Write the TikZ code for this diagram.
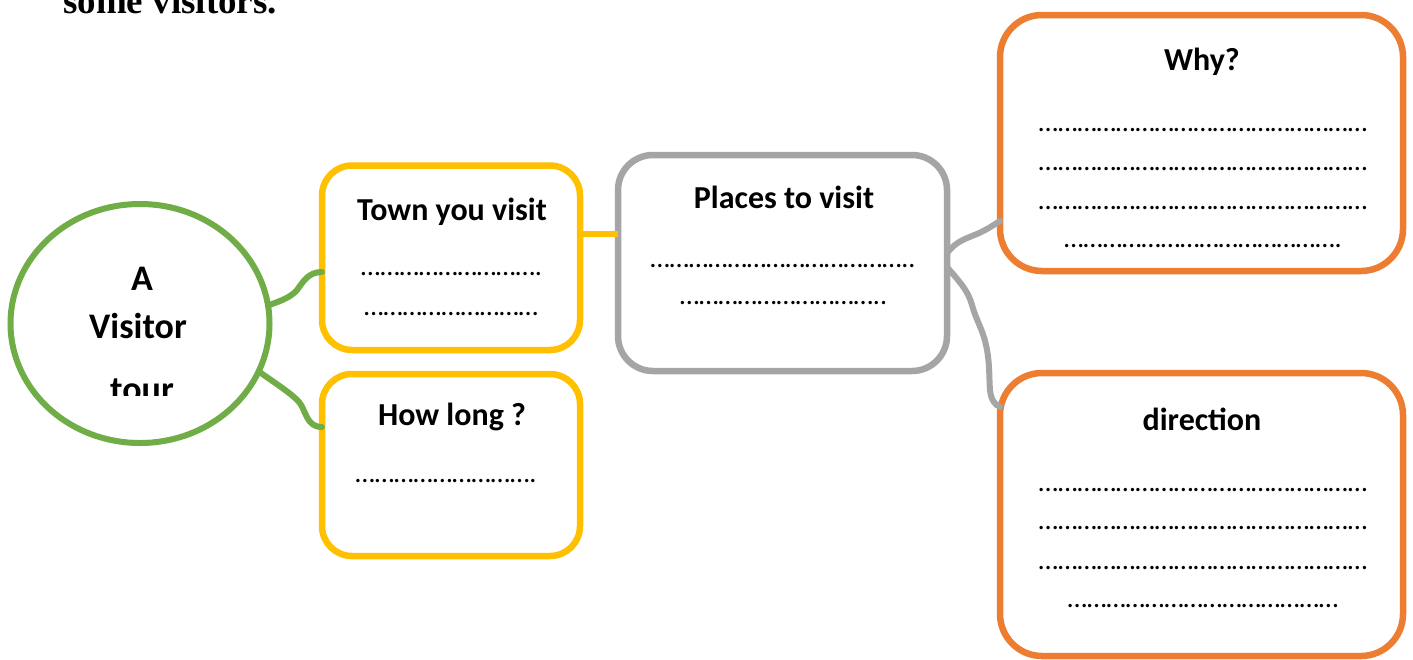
\documentclass[tikz,border=0pt]{standalone}
\usepackage{fontspec}
\setmainfont{Carlito}
\newfontfamily\titleserif{Liberation Serif}
\usetikzlibrary{shapes.geometric}
\definecolor{grn}{HTML}{70AD47}
\definecolor{ylw}{HTML}{FFC000}
\definecolor{gry}{HTML}{A5A5A5}
\definecolor{org}{HTML}{ED7D31}
\newcommand\dotrow[1]{\foreach \i in {1,...,#1}{…}}
\tikzset{
  boxshape/.style={rectangle, line width=6.5pt, inner sep=0pt, outer sep=0pt, fill=white},
  lbl/.style={font=\bfseries\fontsize{32}{38}\selectfont, inner sep=0pt, anchor=base},
  ctext/.style={font=\bfseries\fontsize{36}{42}\selectfont, inner sep=0pt, anchor=base},
  dotline/.style={font=\fontsize{28}{33}\selectfont, inner sep=0pt, anchor=base},
  conn/.style={line width=6pt, line cap=round, line join=round}
}
\begin{document}
\begin{tikzpicture}[x=1pt,y=-1pt]
\useasboundingbox (0,0) rectangle (1413,659);
\clip (0,0) rectangle (1413,659);
\fill[white] (0,0) rectangle (1413,659);

% title
\node[anchor=base west, inner sep=0pt, font=\titleserif\bfseries\fontsize{37}{40}\selectfont] (title) at (63,13) {some visitors.};

% shapes
\node[ellipse, draw=grn, line width=6pt, minimum width=259pt, minimum height=239pt, inner sep=0pt, outer sep=0pt] (circ) at (140,323.5) {};
\node[boxshape, draw=ylw, rounded corners=30pt, minimum width=258pt, minimum height=184.5pt] (town) at (451,257.75) {};
\node[boxshape, draw=ylw, rounded corners=30pt, minimum width=258pt, minimum height=182pt] (hl) at (451,465) {};
\node[boxshape, draw=gry, rounded corners=35pt, minimum width=329pt, minimum height=216pt] (places) at (782.5,263) {};
\node[boxshape, draw=org, rounded corners=42pt, minimum width=403pt, minimum height=256pt] (why) at (1201.5,143) {};
\node[boxshape, draw=org, rounded corners=42pt, minimum width=403pt, minimum height=283pt] (dir) at (1201.5,514.5) {};

% connectors
\draw[conn, draw=grn] (circ.8) .. controls (280,301) and (290,298) .. (297,290) .. controls (303,282) and (308,272) .. ([yshift=-14.25pt]town.west);
\draw[conn, draw=grn] (circ.-22) .. controls (278,385) and (292,394) .. (299,402) .. controls (306,410) and (306,427) .. ([yshift=38pt]hl.west);
\draw[conn, draw=ylw, line cap=butt] ([yshift=23.75pt]town.east) -- ([yshift=29pt]places.west);
\draw[conn, draw=gry] ([yshift=10pt]places.east) .. controls (955,243) and (962,240) .. (972,236) .. controls (985,231) and (992,226) .. ([yshift=-78pt]why.west);
\draw[conn, draw=gry] ([yshift=-4pt]places.east) .. controls (958,280) and (968,290) .. (972,305) .. controls (976,320) and (983,330) .. (986,345) .. controls (990,362) and (989,380) .. (990,390) .. controls (991,400) and (995,405) .. ([yshift=107.5pt]dir.west);

% circle text
\node[ctext] (ta) at (142,290) {A};
\node[ctext] (tv) at (138,338) {Visitor};
\begin{scope}
\clip (0,0) rectangle (1413,395);
\node[ctext] (tt) at (142,401) {tour};
\end{scope}

% town
\node[lbl] (townT) at (452,220) {Town you visit};
\node[dotline] (townD1) at (451.5,275) {\dotrow{9}.};
\node[dotline] (townD2) at (451,315) {\dotrow{9}};

% how long
\node[lbl] (hlT) at (452,425) {How long ?};
\node[dotline] (hlD1) at (446,482) {\dotrow{9}.};

% places
\node[lbl] (plT) at (784,208) {Places to visit};
\node[dotline] (plD1) at (783,267) {\dotrow{13}..};
\node[dotline] (plD2) at (783.5,304) {\dotrow{10}..};

% why
\node[lbl] (whyT) at (1202,70) {Why?};
\node[dotline] (whyD1) at (1203,131) {\dotrow{17}};
\node[dotline] (whyD2) at (1203,170) {\dotrow{17}};
\node[dotline] (whyD3) at (1203,209) {\dotrow{17}};
\node[dotline] (whyD4) at (1203,247) {\dotrow{14}.};

% direction
\node[lbl] (dirT) at (1202,430) {direction};
\node[dotline] (dirD1) at (1203,491) {\dotrow{17}};
\node[dotline] (dirD2) at (1203,529) {\dotrow{17}};
\node[dotline] (dirD3) at (1203,569) {\dotrow{17}};
\node[dotline] (dirD4) at (1203,607) {\dotrow{14}};
\end{tikzpicture}
\end{document}
